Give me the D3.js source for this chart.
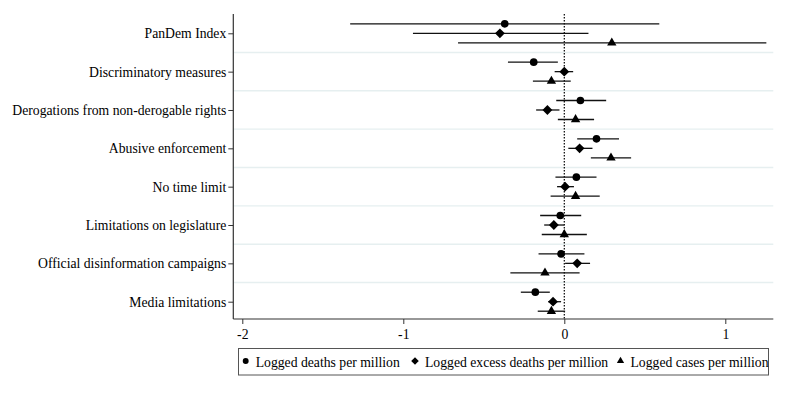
<!DOCTYPE html>
<html lang="en">
<head>
    <meta charset="UTF-8">
    <title>Coefficient plot</title>
    <script src="https://d3js.org/d3.v7.min.js"></script>
    <style>
        body { margin: 0; background: #fff; }
        text { font-family: 'Liberation Serif', 'Times New Roman', serif; font-size: 13.7px; fill: #000; }
    </style>
</head>
<body>
<script>

    const width  = 787;
    const height = 394;

    const categories = [
        'PanDem Index',
        'Discriminatory measures',
        'Derogations from non-derogable rights',
        'Abusive enforcement',
        'No time limit',
        'Limitations on legislature',
        'Official disinformation campaigns',
        'Media limitations'
    ];

    const xTicks = [-2, -1, 0, 1];

    // point estimates and 95% CI bounds, one entry per category
    const deathsEst = [-0.37, -0.19, 0.10, 0.20, 0.075, -0.025, -0.02, -0.18];
    const deathsLo  = [-1.33, -0.35, -0.05, 0.08, -0.055, -0.15, -0.16, -0.27];
    const deathsHi  = [0.59, -0.04, 0.26, 0.34, 0.20, 0.105, 0.125, -0.09];

    const excessEst = [-0.40, 0.0, -0.105, 0.095, 0.005, -0.065, 0.08, -0.07];
    const excessLo  = [-0.94, -0.06, -0.175, 0.025, -0.045, -0.125, 0.005, -0.10];
    const excessHi  = [0.15, 0.055, -0.03, 0.175, 0.06, 0.0, 0.16, -0.02];

    const casesEst = [0.295, -0.08, 0.07, 0.29, 0.07, 0.0, -0.12, -0.08];
    const casesLo  = [-0.66, -0.195, -0.04, 0.165, -0.085, -0.14, -0.335, -0.165];
    const casesHi  = [1.255, 0.04, 0.185, 0.415, 0.22, 0.14, 0.095, 0.005];

    const seriesNames = [
        'Logged deaths per million',
        'Logged excess deaths per million',
        'Logged cases per million'
    ];

    const series = [
        {name: seriesNames[0], est: deathsEst, lo: deathsLo, hi: deathsHi, shape: 'circle',   dy: -9.5},
        {name: seriesNames[1], est: excessEst, lo: excessLo, hi: excessHi, shape: 'diamond',  dy: 0},
        {name: seriesNames[2], est: casesEst,  lo: casesLo,  hi: casesHi,  shape: 'triangle', dy: 9.5}
    ];

    const plotLeft = 233.3, plotRight = 773.3, plotTop = 14, plotBottom = 319;

    const x = d3.scaleLinear()
            .domain([-2, 1])
            .range([242.3, 725.3]);
    const y = d3.scalePoint()
            .domain(categories)
            .range([33.3, 301.7]);

    function symbolPath(shape, scale) {
        const k = scale || 1;
        if (shape === 'circle') return d3.symbol(d3.symbolCircle, 46 * k)();
        if (shape === 'diamond') return d3.symbol(d3.symbolSquare, 48 * k)();
        return d3.symbol(d3.symbolTriangle, 38 * k)();
    }

    const svg = d3.select("body")
            .append("svg")
            .attr("width", width)
            .attr("height", height);

    // separators between categories
    const step = y.step();
    svg.append("g")
            .selectAll("line")
            .data(categories.slice(1))
            .enter()
            .append("line")
            .attr("x1", plotLeft)
            .attr("x2", plotRight)
            .attr("y1", d => y(d) - step / 2)
            .attr("y2", d => y(d) - step / 2)
            .attr("stroke", "#e6eff0")
            .attr("stroke-width", 1.4);

    // zero reference line
    svg.append("line")
            .attr("x1", x(0)).attr("x2", x(0))
            .attr("y1", plotTop).attr("y2", plotBottom)
            .attr("stroke", "#000")
            .attr("stroke-width", 1.2)
            .attr("stroke-dasharray", "1.5,1.5");

    series.forEach(s => {
        const g = svg.append("g");
        g.selectAll("line")
                .data(categories)
                .enter()
                .append("line")
                .attr("x1", (d, i) => x(s.lo[i]))
                .attr("x2", (d, i) => x(s.hi[i]))
                .attr("y1", d => y(d) + s.dy)
                .attr("y2", d => y(d) + s.dy)
                .attr("stroke", "#111")
                .attr("stroke-width", 1.3);
        g.selectAll("path")
                .data(categories)
                .enter()
                .append("path")
                .attr("d", symbolPath(s.shape))
                .attr("transform", (d, i) => "translate(" + [x(s.est[i]), y(d) + s.dy] + ")" +
                        (s.shape === 'diamond' ? " rotate(45)" : ""))
                .attr("fill", "#000");
    });

    // axes
    const yAxis = d3.axisLeft(y).tickSize(5).tickPadding(2);
    const gy = svg.append("g")
            .attr("transform", "translate(" + plotLeft + ",0)")
            .call(yAxis);
    gy.select(".domain").remove();
    gy.selectAll(".tick line").attr("stroke", "#333");
    gy.selectAll(".tick text").attr("fill", "#000");

    const xAxis = d3.axisBottom(x).tickValues(xTicks).tickSize(5).tickPadding(5)
            .tickFormat(d => String(d));
    const gx = svg.append("g")
            .attr("transform", "translate(0," + plotBottom + ")")
            .call(xAxis);
    gx.select(".domain").remove();
    gx.selectAll(".tick line").attr("stroke", "#333");
    gx.selectAll(".tick text").attr("fill", "#000");

    svg.append("line")
            .attr("x1", plotLeft).attr("x2", plotLeft)
            .attr("y1", plotTop).attr("y2", plotBottom)
            .attr("stroke", "#333").attr("stroke-width", 1.2);
    svg.append("line")
            .attr("x1", plotLeft).attr("x2", plotRight)
            .attr("y1", plotBottom).attr("y2", plotBottom)
            .attr("stroke", "#333").attr("stroke-width", 1.2);

    // legend
    const legend = svg.append("g");
    legend.append("rect")
            .attr("x", 238.5).attr("y", 348.5)
            .attr("width", 530).attr("height", 26.5)
            .attr("fill", "#fff")
            .attr("stroke", "#555");

    const legendX = [245.7, 415, 620.5];
    series.forEach((s, i) => {
        legend.append("path")
                .attr("d", symbolPath(s.shape, 0.6))
                .attr("transform", "translate(" + [legendX[i], 361] + ")" +
                        (s.shape === 'diamond' ? " rotate(45)" : ""))
                .attr("fill", "#000");
        legend.append("text")
                .attr("x", legendX[i] + 10)
                .attr("y", 366.5)
                .text(s.name);
    });

</script>
</body>
</html>
